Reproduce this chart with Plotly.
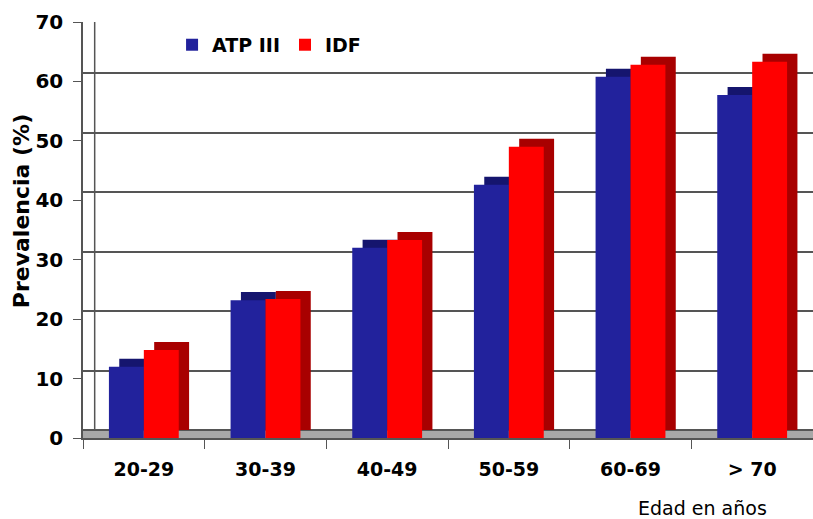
import plotly.graph_objects as go

categories = ["20-29", "30-39", "40-49", "50-59", "60-69", "> 70"]
atp_iii = [12.0, 23.2, 32.0, 42.6, 60.8, 57.7]
idf = [14.8, 23.4, 33.3, 49.0, 62.8, 63.3]
y_ticks = [0, 10, 20, 30, 40, 50, 60, 70]

BLUE = "#22229c"
BLUE_DARK = "#15156e"
RED = "#ff0000"
RED_DARK = "#a80000"
W = 0.287          # front width in category units
DX = 0.085         # depth shift in category units
DY = 1.35          # depth rise in value units

fig = go.Figure()

# depth (side/top) faces drawn behind the fronts
fig.add_trace(go.Bar(x=categories, y=atp_iii, base=DY, offset=-W + DX, width=W,
                     marker=dict(color=BLUE_DARK, line_width=0), showlegend=False,
                     hoverinfo="skip"))
fig.add_trace(go.Bar(x=categories, y=idf, base=DY, offset=DX, width=W,
                     marker=dict(color=RED_DARK, line_width=0), showlegend=False,
                     hoverinfo="skip"))
# front faces
fig.add_trace(go.Bar(x=categories, y=atp_iii, offset=-W, width=W, name="ATP III",
                     marker=dict(color=BLUE, line_width=0)))
fig.add_trace(go.Bar(x=categories, y=idf, offset=0, width=W, name="IDF",
                     marker=dict(color=RED, line_width=0)))
# carrier for the back-wall gridlines
fig.add_trace(go.Scatter(x=[categories[0]], y=[0], yaxis="y2", mode="markers",
                         marker=dict(opacity=0), showlegend=False, hoverinfo="skip"))

fig.update_layout(
    width=813, height=519,
    margin=dict(l=83, r=0, t=22, b=81),
    paper_bgcolor="white", plot_bgcolor="white",
    barmode="overlay",
    font=dict(family="DejaVu Sans", color="black"),
    xaxis=dict(
        type="category",
        tickfont=dict(size=19, family="DejaVu Sans", weight="bold"),
        showgrid=False, showline=True, linecolor="#555", linewidth=1.5,
        ticks="outside", ticklen=9, tickcolor="#555", tickson="boundaries",
        ticklabelstandoff=13,
        range=[-0.5, 5.5], zeroline=False,
    ),
    yaxis=dict(
        range=[0, 70], tickvals=y_ticks,
        tickfont=dict(size=20, family="DejaVu Sans", weight="bold"),
        showgrid=False, showline=True, linecolor="#555", linewidth=1.5,
        ticks="outside", ticklen=8, tickcolor="#555", zeroline=False,
        ticklabelstandoff=6,
    ),
    yaxis2=dict(
        overlaying="y", range=[-DY, 70 - DY], tickvals=y_ticks,
        showticklabels=False, showgrid=True, gridcolor="#555", gridwidth=1.5,
        zeroline=False, showline=False,
    ),
    legend=dict(
        orientation="h", x=0.122, y=0.945, xanchor="left", yanchor="middle",
        font=dict(size=19, family="DejaVu Sans", weight="bold"),
        bgcolor="rgba(0,0,0,0)", itemwidth=30, tracegroupgap=0,
    ),
    shapes=[
        dict(type="rect", xref="paper", yref="y", x0=0, x1=1, y0=0, y1=DY,
             fillcolor="#a8a8a8", line_width=0, layer="below"),
        dict(type="line", xref="paper", yref="y2", x0=0.016, x1=0.016, y0=0, y1=70,
             line=dict(color="#555", width=1.5), layer="below"),
    ],
    annotations=[
        dict(text="Prevalencia (%)", xref="paper", yref="paper", x=-0.085, y=0.545,
             textangle=-90, showarrow=False, xanchor="center", yanchor="middle",
             font=dict(size=22, family="DejaVu Sans", weight="bold")),
        dict(text="Edad en años", xref="paper", yref="paper", x=0.848, y=-0.168,
             showarrow=False, xanchor="center", yanchor="middle",
             font=dict(size=19, family="DejaVu Sans")),
    ],
)

fig.write_html("out.html", config={"displayModeBar": False},
               post_script="document.body.style.margin='0';")
